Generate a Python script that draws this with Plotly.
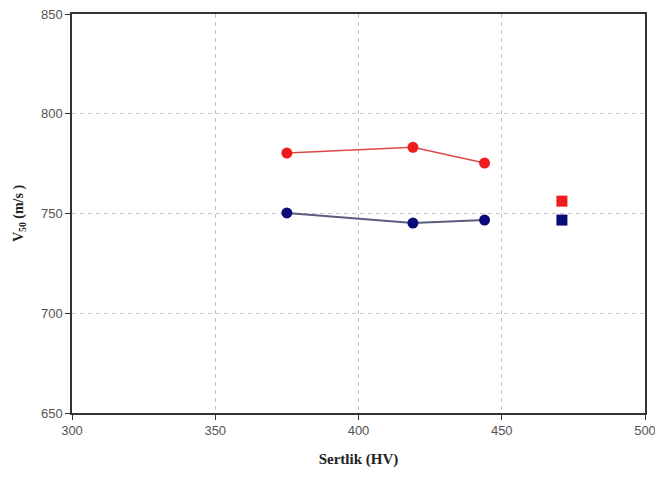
import plotly.graph_objects as go

hardness = [375, 419, 444]
v50_red = [780.3, 783.2, 775.3]
v50_blue = [750.3, 745.2, 746.7]
sq_x = [471, 471]
sq_red = [756.2]
sq_blue = [746.7]

fig = go.Figure()
fig.add_trace(go.Scatter(x=hardness, y=v50_red, mode="lines+markers",
                         line=dict(color="#e04848", width=1.5),
                         marker=dict(symbol="circle", size=11, color="#ee1c1c")))
fig.add_trace(go.Scatter(x=hardness, y=v50_blue, mode="lines+markers",
                         line=dict(color="#5a5c7c", width=2),
                         marker=dict(symbol="circle", size=11, color="#0a0a78")))
fig.add_trace(go.Scatter(x=sq_x[:1], y=sq_red, mode="markers",
                         marker=dict(symbol="square", size=11, color="#ee1c1c")))
fig.add_trace(go.Scatter(x=sq_x[1:], y=sq_blue, mode="markers",
                         marker=dict(symbol="square", size=11, color="#0a0a78")))

axis_common = dict(showline=True, linecolor="#333333", linewidth=1.5, mirror=True,
                   ticks="outside", ticklen=5, tickcolor="#333333",
                   showgrid=True, gridcolor="#c4c4c4", griddash="4px,4px", gridwidth=1,
                   zeroline=False, automargin=False, ticklabeloverflow="allow",
                   tickfont=dict(family="Liberation Sans, Arial, sans-serif", size=13, color="#555555"))

fig.update_layout(
    width=647, height=464,
    paper_bgcolor="white", plot_bgcolor="white",
    showlegend=False,
    margin=dict(l=64, r=10, t=6, b=59, autoexpand=False),
    xaxis=dict(range=[300, 500], dtick=50,
               title=dict(text="<b>Sertlik (HV)</b>", standoff=16,
                          font=dict(family="Liberation Serif, Times New Roman, serif", size=15, color="#222222")),
               **axis_common),
    yaxis=dict(range=[650, 850], dtick=50,
               title=dict(text="<b>V<sub>50</sub> (m/s )</b>", standoff=14,
                          font=dict(family="Liberation Serif, Times New Roman, serif", size=14, color="#222222")),
               **axis_common),
)

fig.write_html("out.html")
